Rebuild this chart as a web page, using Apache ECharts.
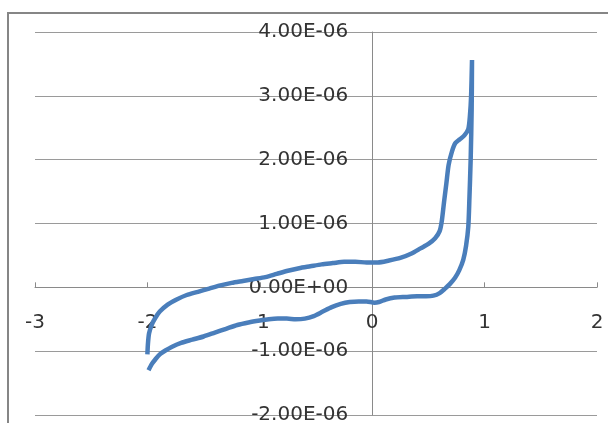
<!DOCTYPE html>
<html>
<head>
<meta charset="utf-8">
<script src="https://cdn.jsdelivr.net/npm/echarts@6/dist/echarts.min.js"></script>
<style>html,body{margin:0;padding:0;background:#fff;}#c{width:608px;height:423px;}</style>
</head>
<body>
<div id="c"></div>
<script>
// Potential (V) along the sweep: forward (upper) branch, then return (lower) branch
var xs = [-2.00,-1.995,-1.985,-1.96,-1.93,-1.89,-1.82,-1.74,-1.65,-1.55,-1.45,-1.35,-1.25,-1.15,-1.05,-0.95,-0.85,-0.75,-0.65,-0.55,-0.45,-0.35,-0.25,-0.15,-0.05,0.05,0.15,0.25,0.35,0.43,0.50,0.56,0.60,0.62,0.64,0.66,0.68,0.71,0.74,0.78,0.82,0.855,0.87,0.88,0.888,
  0.885,0.876,0.865,0.855,0.835,0.81,0.775,0.737,0.69,0.648,0.60,0.545,0.48,0.40,0.30,0.20,0.12,0.06,0.02,-0.05,-0.12,-0.20,-0.28,-0.36,-0.44,-0.52,-0.60,-0.68,-0.76,-0.84,-0.92,-1.00,-1.10,-1.20,-1.30,-1.40,-1.50,-1.60,-1.70,-1.78,-1.84,-1.89,-1.93,-1.96,-1.99];
// Current (A)
var ys = [-1.05e-6,-0.88e-6,-0.72e-6,-0.58e-6,-0.48e-6,-0.38e-6,-0.27e-6,-0.19e-6,-0.12e-6,-0.07e-6,-0.02e-6,0.03e-6,0.07e-6,0.10e-6,0.13e-6,0.16e-6,0.21e-6,0.26e-6,0.30e-6,0.33e-6,0.36e-6,0.38e-6,0.40e-6,0.40e-6,0.39e-6,0.39e-6,0.42e-6,0.46e-6,0.53e-6,0.61e-6,0.68e-6,0.77e-6,0.88e-6,1.05e-6,1.35e-6,1.63e-6,1.92e-6,2.13e-6,2.26e-6,2.32e-6,2.38e-6,2.48e-6,2.70e-6,3.00e-6,3.56e-6,
  2.80e-6,2.00e-6,1.40e-6,0.95e-6,0.65e-6,0.43e-6,0.27e-6,0.15e-6,0.05e-6,-0.02e-6,-0.09e-6,-0.13e-6,-0.14e-6,-0.14e-6,-0.15e-6,-0.16e-6,-0.19e-6,-0.23e-6,-0.24e-6,-0.22e-6,-0.22e-6,-0.23e-6,-0.26e-6,-0.31e-6,-0.38e-6,-0.45e-6,-0.49e-6,-0.50e-6,-0.49e-6,-0.49e-6,-0.50e-6,-0.52e-6,-0.55e-6,-0.59e-6,-0.65e-6,-0.71e-6,-0.77e-6,-0.82e-6,-0.87e-6,-0.93e-6,-0.99e-6,-1.05e-6,-1.13e-6,-1.20e-6,-1.30e-6];
var yTickLabels = ['-2.00E-06','-1.00E-06','0.00E+00','1.00E-06','2.00E-06','3.00E-06','4.00E-06'];
var xTickLabels = ['-3','-2','-1','0','1','2'];

var W = 608, H = 423;
var gLeft = 35, gRight = 11, gTop = 32, gBottom = 8;
var xMin = -3, xMax = 2, yMin = -2e-6, yMax = 4e-6;
var gW = W - gLeft - gRight, gH = H - gTop - gBottom;
// shift axes so they cross at zero (like the original chart)
var yAxisOffset = -((0 - xMin) / (xMax - xMin)) * gW;
var xAxisOffset = -((0 - yMin) / (yMax - yMin)) * gH;

var data = xs.map(function(x, i){ return [x, ys[i]]; });
var chart = echarts.init(document.getElementById('c'));
var font = 'DejaVu Sans';
chart.setOption({
  animation: false,
  backgroundColor: '#ffffff',
  grid: {left: gLeft, right: gRight, top: gTop, bottom: gBottom, containLabel: false, outerBoundsMode: 'none'},
  graphic: [{
    type: 'rect', silent: true,
    shape: {x: 8, y: 13, width: 800, height: 600},
    style: {fill: 'none', stroke: '#868686', lineWidth: 2}
  }],
  xAxis: {
    type: 'value', min: xMin, max: xMax, interval: 1,
    position: 'bottom', offset: xAxisOffset,
    axisLine: {onZero: false, lineStyle: {color: '#8a8a8a', width: 1}},
    axisTick: {show: true, inside: true, length: 5, lineStyle: {color: '#8a8a8a'}},
    splitLine: {show: false},
    axisLabel: {
      margin: 25, fontFamily: font, fontSize: 20, color: '#333',
      formatter: function(v){ return xTickLabels[Math.round(v) + 3]; }
    }
  },
  yAxis: {
    type: 'value', min: yMin, max: yMax, interval: 1e-6,
    position: 'left', offset: yAxisOffset,
    axisLine: {onZero: false, lineStyle: {color: '#8a8a8a', width: 1}},
    axisTick: {show: false},
    splitLine: {show: true, lineStyle: {color: '#9a9a9a', width: 1}},
    axisLabel: {
      margin: 24, fontFamily: font, fontSize: 20, color: '#333',
      formatter: function(v){ return yTickLabels[Math.round(v / 1e-6) + 2]; }
    }
  },
  series: [{
    type: 'line',
    data: data,
    showSymbol: false,
    smooth: 0.25,
    lineStyle: {color: '#4a7ebb', width: 4.5},
    z: 5
  }]
});
</script>
</body>
</html>
